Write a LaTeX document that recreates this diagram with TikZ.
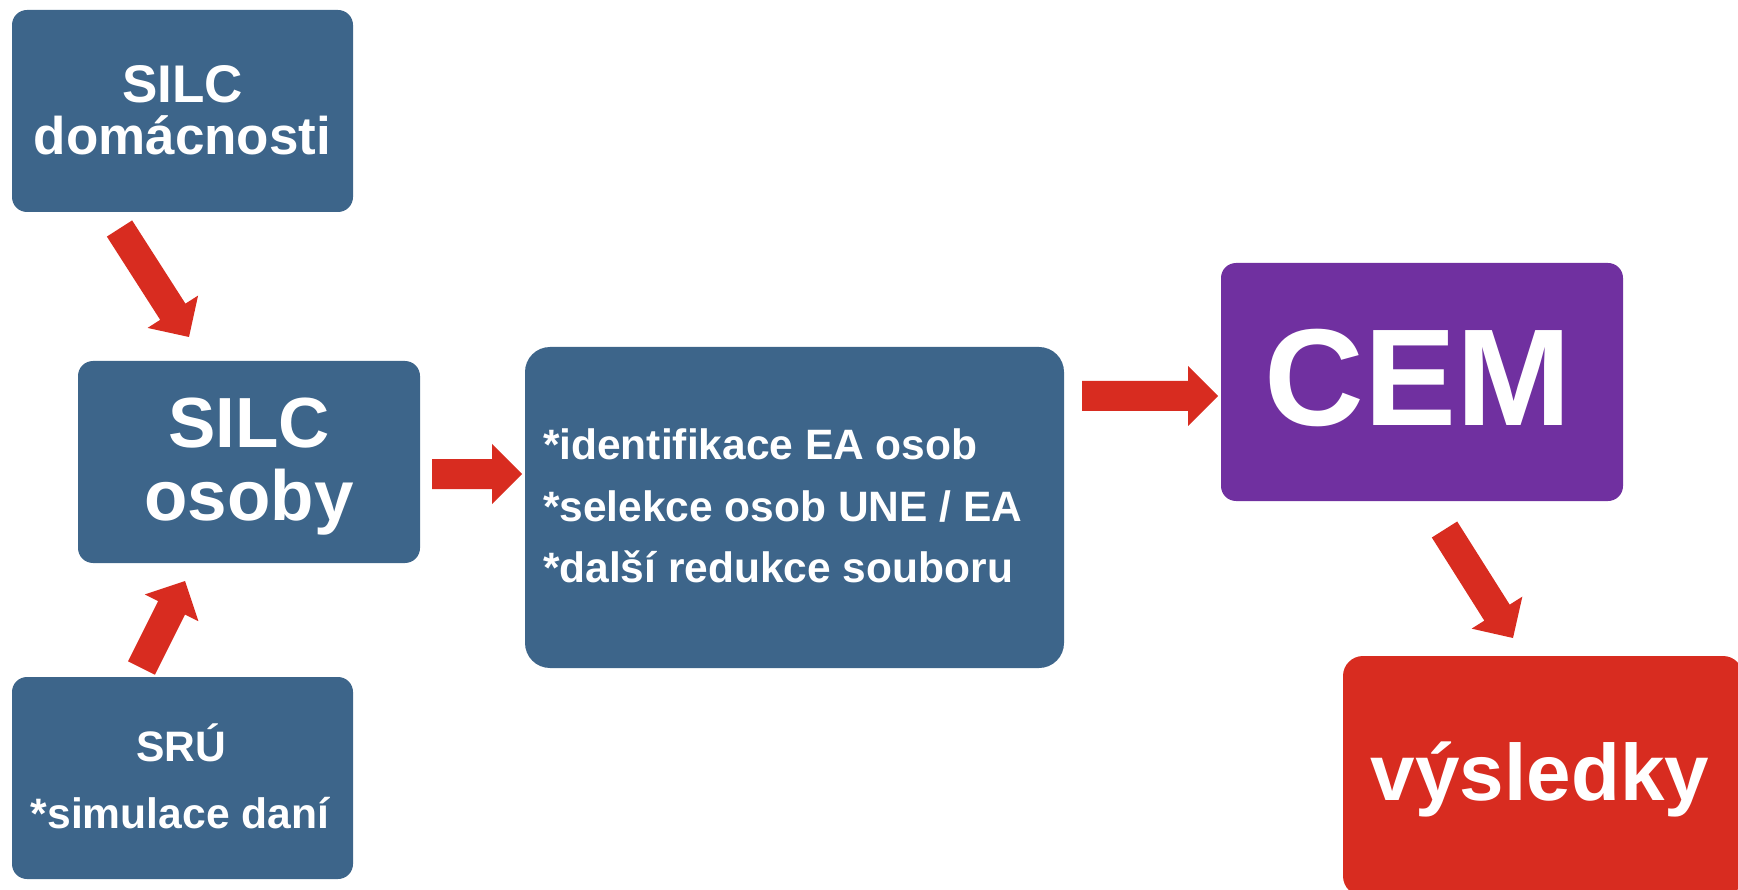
\documentclass[tikz,border=0pt]{standalone}
\usepackage{fontspec}
\setmainfont{Liberation Sans}
\usetikzlibrary{calc}
\definecolor{boxblue}{HTML}{3D658A}
\definecolor{boxpurple}{HTML}{7030A0}
\definecolor{arrowred}{HTML}{D82C20}
\newcommand{\redarrow}[2]{%
  \coordinate (tmpH) at ($(#2)!30pt!(#1)$);
  \fill[arrowred] ($(#1)!15pt!90:(#2)$) -- ($(#1)!15pt!-90:(#2)$)
    -- ($(tmpH)!15pt!-90:(#2)$) -- ($(tmpH)!30pt!-90:(#2)$) -- (#2)
    -- ($(tmpH)!30pt!90:(#2)$) -- ($(tmpH)!15pt!90:(#2)$) -- cycle;}
\tikzset{
  card/.style={draw=none, inner sep=0pt, outer sep=0pt, rounded corners=15pt},
  bluecard/.style={card, fill=boxblue},
  txt/.style={text=white, inner sep=0pt, outer sep=0pt, anchor=base, font=\bfseries}
}
\begin{document}
\begin{tikzpicture}[x=1pt,y=-1pt]
\useasboundingbox (0,0) rectangle (1738,890);
\clip (0,0) rectangle (1738,890);
% boxes
\node[bluecard, minimum width=341pt, minimum height=202pt] (dom) at (182.5,111) {};
\node[bluecard, minimum width=342pt, minimum height=202pt] (oso) at (249,462) {};
\node[bluecard, minimum width=539pt, minimum height=321pt, rounded corners=25pt] (mid) at (794.5,507.5) {};
\node[bluecard, minimum width=341pt, minimum height=202pt] (sru) at (182.5,778) {};
\node[card, fill=boxpurple, minimum width=402pt, minimum height=238pt] (cem) at (1422,382) {};
\node[card, fill=arrowred, minimum width=400pt, minimum height=240pt, rounded corners=20pt] (vys) at (1543,776) {};
% texts
\node[txt, font=\bfseries\fontsize{53}{53}\selectfont] (domA) at (182.5,103) {SILC};
\node[txt, font=\bfseries\fontsize{53}{53}\selectfont] (domB) at (182.5,155) {domácnosti};
\node[txt, font=\bfseries\fontsize{71}{71}\selectfont] (osoA) at (249,447) {SILC};
\node[txt, font=\bfseries\fontsize{71}{71}\selectfont] (osoB) at (249,520) {osoby};
\node[txt, anchor=base west, font=\bfseries\fontsize{42.5}{42.5}\selectfont] (midA) at (543,460) {*identifikace EA osob};
\node[txt, anchor=base west, font=\bfseries\fontsize{42.5}{42.5}\selectfont] (midB) at (543,521) {*selekce osob UNE / EA};
\node[txt, anchor=base west, font=\bfseries\fontsize{42.5}{42.5}\selectfont] (midC) at (543,582) {*další redukce souboru};
\node[txt, font=\bfseries\fontsize{42.6}{42.6}\selectfont] (sruA) at (181,761) {SRÚ};
\node[txt, font=\bfseries\fontsize{42.6}{42.6}\selectfont] (sruB) at (180,828) {*simulace daní};
\node[txt, font=\bfseries\fontsize{138}{138}\selectfont] (cemA) at (1418,426) {CEM};
\node[txt, font=\bfseries\fontsize{80}{80}\selectfont] (vysA) at (1540,800) {výsledky};
% arrows
\coordinate (a1s) at (119.5,228.5); \coordinate (a1e) at (189,337);
\coordinate (a2s) at (432,474); \coordinate (a2e) at (522,474);
\coordinate (a3s) at (1082,396); \coordinate (a3e) at (1218,396);
\coordinate (a4s) at (1444.5,529.5); \coordinate (a4e) at (1513,638);
\coordinate (a5s) at (141.5,668); \coordinate (a5e) at (185,581);
\redarrow{a1s}{a1e}
\redarrow{a2s}{a2e}
\redarrow{a3s}{a3e}
\redarrow{a4s}{a4e}
\redarrow{a5s}{a5e}
\end{tikzpicture}
\end{document}
